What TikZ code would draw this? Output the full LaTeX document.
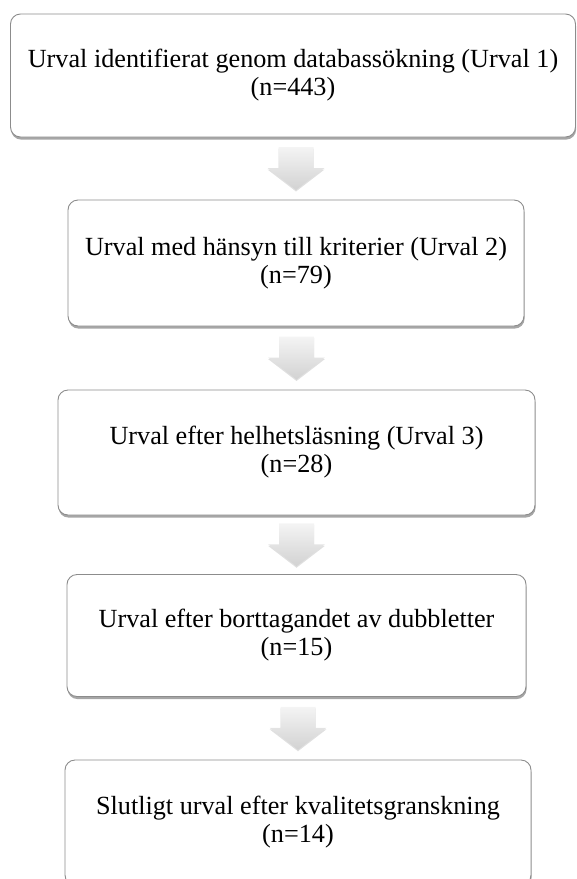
\documentclass[tikz,border=0pt]{standalone}
\usepackage{fontspec}
\setmainfont{Liberation Serif}
\usetikzlibrary{calc,shadows}
\definecolor{boxline}{HTML}{8C8C8C}
\definecolor{arrtop}{HTML}{F4F4F4}
\definecolor{arrbot}{HTML}{D2D2D2}
\tikzset{
  flowbox/.style={draw=boxline, line width=0.9pt, fill=white, rounded corners=10pt,
    align=center, inner sep=0pt, font=\fontsize{26.2}{28}\selectfont,
    drop shadow={shadow xshift=0.6pt, shadow yshift=-2.6pt, fill=black, opacity=0.35}},
  arrowfill/.style={top color=arrtop, bottom color=arrbot, draw=none,
    drop shadow={shadow xshift=0pt, shadow yshift=-1.5pt, fill=black, opacity=0.12}}
}
\newcommand{\flowarrow}[3]{%
  \coordinate (#1) at ($(#3.north)!0.5!(#3.north |- #2.south)$);
  \path[arrowfill] ($(#1)+(-17.5,-21.5)$) -- ($(#1)+(17.5,-21.5)$) -- ($(#1)+(17.5,-0.5)$)
    -- ($(#1)+(28.5,-0.5)$) -- ($(#1)+(0,21.5)$) -- ($(#1)+(-28.5,-0.5)$)
    -- ($(#1)+(-17.5,-0.5)$) -- cycle;
}
\begin{document}
\begin{tikzpicture}[x=1pt,y=-1pt]
\useasboundingbox (0,0) rectangle (577,879);
\begin{scope}
\clip (0,0) rectangle (577,879);
\node[flowbox, minimum width=565pt, minimum height=123pt] (b1) at (293,75.5)
  {Urval identifierat genom databassökning (Urval 1)\\(n=443)};
\node[flowbox, minimum width=456pt, minimum height=126pt] (b2) at (296,263)
  {Urval med hänsyn till kriterier (Urval 2)\\(n=79)};
\node[flowbox, minimum width=477pt, minimum height=125pt] (b3) at (296.5,452.5)
  {Urval efter helhetsläsning (Urval 3)\\(n=28)};
\node[flowbox, minimum width=459pt, minimum height=122pt] (b4) at (296.5,635.5)
  {Urval efter borttagandet av dubbletter\\(n=15)};
\node[flowbox, minimum width=466pt, minimum height=125pt] (b5) at (298,822.5)
  {Slutligt urval efter kvalitetsgranskning\\(n=14)};
\flowarrow{a1}{b1}{b2}
\flowarrow{a2}{b2}{b3}
\flowarrow{a3}{b3}{b4}
\flowarrow{a4}{b4}{b5}
\end{scope}
\end{tikzpicture}
\end{document}
